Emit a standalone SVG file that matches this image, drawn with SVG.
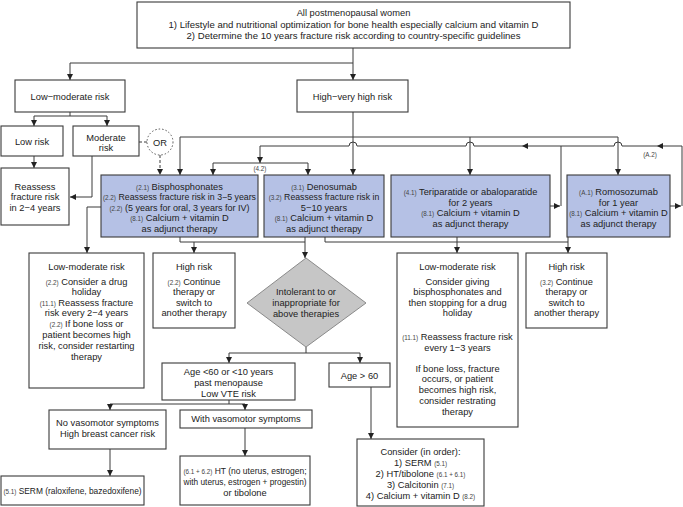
<svg xmlns="http://www.w3.org/2000/svg" width="683" height="507" viewBox="0 0 683 507">
<style>
.bx{fill:#fff;stroke:#3a3a3a;stroke-width:1.1}
.bl{fill:#b5c1e5;stroke:#3a3a3a;stroke-width:1.1}
.dm{fill:#c6c6c6;stroke:#8a8a8a;stroke-width:1}
.t{font-family:"Liberation Sans",Arial,sans-serif;font-size:9.3px;fill:#222;text-anchor:middle}
.s{font-size:6.3px;fill:#444}
.c{fill:none;stroke:#3a3a3a;stroke-width:1}
.a{marker-end:url(#ah)}
.ah{fill:#222}
</style>
<defs>
<marker id="ah" markerWidth="7" markerHeight="7" refX="6" refY="3" orient="auto" markerUnits="userSpaceOnUse"><path d="M0,0 L6,3 L0,6 z" fill="#222"/></marker>
</defs>
<rect width="683" height="507" fill="#fff"/>

<g id="connectors">
<path class="c" d="M353,48 V63 M70,63 H353"/>
<path class="c a" d="M70,63 V80"/>
<path class="c a" d="M353,63 V80"/>
<path class="c" d="M70,112 V116 M34,116 H107"/>
<path class="c a" d="M34,116 V126"/>
<path class="c a" d="M107,116 V126"/>
<path class="c a" d="M34,156 V168"/>
<path class="c a" d="M92,156 V197 H70"/>
<path class="c" d="M139,142 H147" stroke-dasharray="3,2"/>
<path class="c a" d="M160,155 V175" stroke-dasharray="3,2"/>
<path class="c a" d="M353,112 V175"/>
<path class="c" d="M180,137 H618"/>
<path class="c a" d="M180,137 V175"/>
<path class="c a" d="M470,137 V175"/>
<path class="c a" d="M618,137 V175"/>
<path class="c" d="M213,163 H308"/>
<path class="c a" d="M213,163 V175"/>
<path class="c a" d="M308,163 V175"/>
<path class="c a" d="M682,206 V146 H622 a4,4 0 0 0 -8,0 H474 a4,4 0 0 0 -8,0 H357 a4,4 0 0 0 -8,0 H260 V163"/>
<path class="ah" d="M522,146 l6,-3 v6 z"/>
<path class="ah" d="M657,146 l6,-3 v6 z"/>
<path class="c a" d="M550,206 H560"/>
<path class="c" d="M561,206 V146"/>
<path class="c a" d="M670,206 H681"/>
<path class="c a" d="M101,207 H87 V253"/>
<path class="c" d="M180,237 V242 H305"/>
<path class="c a" d="M305,237 V258"/>
<path class="c a" d="M194,242 V253"/>
<path class="c" d="M325,237 V242 H568"/>
<path class="c a" d="M457,237 V253"/>
<path class="c a" d="M568,237 V253"/>
<path class="c" d="M306,347 V353 M229,353 H360"/>
<path class="c a" d="M229,353 V363"/>
<path class="c a" d="M360,353 V363"/>
<path class="c a" d="M371,387 V439"/>
<path class="c" d="M229,400 V404 M110,404 H245"/>
<path class="c a" d="M110,404 V410"/>
<path class="c a" d="M245,404 V410"/>
<path class="c a" d="M110,449 V476"/>
<path class="c a" d="M245,428 V456"/>
</g>

<g id="top">
<rect class="bx" x="137" y="2" width="433" height="46"/>
<text class="t" x="353.5" y="15.5">All postmenopausal women</text>
<text class="t" x="353.5" y="27.5" textLength="370" lengthAdjust="spacingAndGlyphs">1) Lifestyle and nutritional optimization for bone health especially calcium and vitamin D</text>
<text class="t" x="353.5" y="39" textLength="334" lengthAdjust="spacingAndGlyphs">2) Determine the 10 years fracture risk according to country-specific guidelines</text>
</g>

<g id="lowmod">
<rect class="bx" x="15" y="80" width="110" height="32"/>
<text class="t" x="70" y="99.5">Low−moderate risk</text>
</g>
<g id="highvh">
<rect class="bx" x="297" y="80" width="111" height="32"/>
<text class="t" x="352.5" y="99.5">High−very high risk</text>
</g>
<g id="lowrisk">
<rect class="bx" x="1" y="126" width="62" height="30"/>
<text class="t" x="32" y="144.5">Low risk</text>
</g>
<g id="modrisk">
<rect class="bx" x="73" y="126" width="66" height="30"/>
<text class="t" x="106" y="140.5">Moderate</text>
<text class="t" x="106" y="150.5">risk</text>
</g>
<g id="or">
<circle cx="160" cy="142" r="13" fill="#fff" stroke="#555" stroke-width="1" stroke-dasharray="1.5,2"/>
<text class="t" x="160" y="145.5">OR</text>
</g>
<g id="reassess">
<rect class="bx" x="1" y="168" width="68" height="57"/>
<text class="t" x="35" y="189.5">Reassess</text>
<text class="t" x="35" y="200">fracture risk</text>
<text class="t" x="35" y="210.5">in 2−4 years</text>
</g>

<g id="bisph">
<rect class="bl" x="101" y="175" width="157" height="62"/>
<text class="t" x="179.5" y="189.5"><tspan class="s">(2.1)</tspan> Bisphosphonates</text>
<text class="t" x="179.5" y="200" style="font-size:8.8px"><tspan class="s">(2.2)</tspan> Reassess fracture risk in 3−5 years</text>
<text class="t" x="179.5" y="210.5" style="font-size:9px"><tspan class="s">(2.2)</tspan> (5 years for oral, 3 years for IV)</text>
<text class="t" x="179.5" y="221"><tspan class="s">(8.1)</tspan> Calcium + vitamin D</text>
<text class="t" x="179.5" y="231.5">as adjunct therapy</text>
</g>
<g id="denos">
<rect class="bl" x="264" y="175" width="120" height="62"/>
<text class="t" x="324" y="189.5"><tspan class="s">(3.1)</tspan> Denosumab</text>
<text class="t" x="324" y="200" style="font-size:8.7px"><tspan class="s">(3.2)</tspan> Reassess fracture risk in</text>
<text class="t" x="324" y="210.5">5−10 years</text>
<text class="t" x="324" y="221"><tspan class="s">(8.1)</tspan> Calcium + vitamin D</text>
<text class="t" x="324" y="231.5">as adjunct therapy</text>
</g>
<g id="teri">
<rect class="bl" x="391" y="175" width="159" height="62"/>
<text class="t" x="470.5" y="195"><tspan class="s">(4.1)</tspan> Teriparatide or abaloparatide</text>
<text class="t" x="470.5" y="205.5">for 2 years</text>
<text class="t" x="470.5" y="216"><tspan class="s">(8.1)</tspan> Calcium + vitamin D</text>
<text class="t" x="470.5" y="226.5">as adjunct therapy</text>
</g>
<g id="romo">
<rect class="bl" x="567" y="175" width="103" height="62"/>
<text class="t" x="618.5" y="195"><tspan class="s">(A.1)</tspan> Romosozumab</text>
<text class="t" x="618.5" y="205.5">for 1 year</text>
<text class="t" x="618.5" y="216"><tspan class="s">(8.1)</tspan> Calcium + vitamin D</text>
<text class="t" x="618.5" y="226.5">as adjunct therapy</text>
</g>
<g id="labels">
<text class="t s" x="260" y="171">(4.2)</text>
<text class="t s" x="650" y="157">(A.2)</text>
</g>

<g id="lowmod2">
<rect class="bx" x="29" y="253" width="115" height="135"/>
<text class="t" x="86.5" y="269.5">Low-moderate risk</text>
<text class="t" x="86.5" y="284.5"><tspan class="s">(2.2)</tspan> Consider a drug</text>
<text class="t" x="86.5" y="295">holiday</text>
<text class="t" x="86.5" y="305.5"><tspan class="s">(11.1)</tspan> Reassess fracture</text>
<text class="t" x="86.5" y="316">risk every 2−4 years</text>
<text class="t" x="86.5" y="327"><tspan class="s">(2.2)</tspan> If bone loss or</text>
<text class="t" x="86.5" y="338">patient becomes high</text>
<text class="t" x="86.5" y="349">risk, consider restarting</text>
<text class="t" x="86.5" y="360">therapy</text>
</g>
<g id="high2">
<rect class="bx" x="153" y="253" width="82" height="75"/>
<text class="t" x="194" y="269.5">High risk</text>
<text class="t" x="194" y="284.5"><tspan class="s">(2.2)</tspan> Continue</text>
<text class="t" x="194" y="295">therapy or</text>
<text class="t" x="194" y="305.5">switch to</text>
<text class="t" x="194" y="316">another therapy</text>
</g>
<g id="intolerant">
<polygon class="dm" points="306,258 366,303 306,347 247,303"/>
<text class="t" x="306" y="295">Intolerant to or</text>
<text class="t" x="306" y="306">inappropriate for</text>
<text class="t" x="306" y="317">above therapies</text>
</g>
<g id="lowmod3">
<rect class="bx" x="397" y="253" width="121" height="174"/>
<text class="t" x="457.5" y="269.5">Low-moderate risk</text>
<text class="t" x="457.5" y="284.5">Consider giving</text>
<text class="t" x="457.5" y="295">bisphosphonates and</text>
<text class="t" x="457.5" y="305.5">then stopping for a drug</text>
<text class="t" x="457.5" y="316">holiday</text>
<text class="t" x="457.5" y="340"><tspan class="s">(11.1)</tspan> Reassess fracture risk</text>
<text class="t" x="457.5" y="350.5">every 1−3 years</text>
<text class="t" x="457.5" y="371.5">If bone loss, fracture</text>
<text class="t" x="457.5" y="382">occurs, or patient</text>
<text class="t" x="457.5" y="393">becomes high risk,</text>
<text class="t" x="457.5" y="404">consider restrating</text>
<text class="t" x="457.5" y="415">therapy</text>
</g>
<g id="high3">
<rect class="bx" x="526" y="253" width="81" height="75"/>
<text class="t" x="566.5" y="269.5">High risk</text>
<text class="t" x="566.5" y="284.5"><tspan class="s">(3.2)</tspan> Continue</text>
<text class="t" x="566.5" y="295">therapy or</text>
<text class="t" x="566.5" y="305.5">switch to</text>
<text class="t" x="566.5" y="316">another therapy</text>
</g>
<g id="age60">
<rect class="bx" x="162" y="363" width="133" height="37"/>
<text class="t" x="228.5" y="374.5">Age &lt;60 or &lt;10 years</text>
<text class="t" x="228.5" y="385.5">past menopause</text>
<text class="t" x="228.5" y="396.5">Low VTE risk</text>
</g>
<g id="ageover60">
<rect class="bx" x="329" y="363" width="61" height="24"/>
<text class="t" x="359.5" y="378.5">Age &gt; 60</text>
</g>
<g id="novaso">
<rect class="bx" x="49" y="410" width="117" height="39"/>
<text class="t" x="107.5" y="426">No vasomotor symptoms</text>
<text class="t" x="107.5" y="437">High breast cancer risk</text>
</g>
<g id="withvaso">
<rect class="bx" x="180" y="410" width="132" height="18"/>
<text class="t" x="246" y="422">With vasomotor symptoms</text>
</g>
<g id="serm">
<rect class="bx" x="1" y="476" width="143" height="29"/>
<text class="t" x="72.5" y="493.5" style="font-size:8.4px"><tspan class="s">(5.1)</tspan> SERM (raloxifene, bazedoxifene)</text>
</g>
<g id="ht">
<rect class="bx" x="180" y="456" width="130" height="49"/>
<text class="t" x="245" y="473.5" style="font-size:8.5px"><tspan class="s">(6.1 + 6.2)</tspan> HT (no uterus, estrogen;</text>
<text class="t" x="245" y="484.5" textLength="123" lengthAdjust="spacingAndGlyphs">with uterus, estrogen + progestin)</text>
<text class="t" x="245" y="495.5">or tibolone</text>
</g>
<g id="consider">
<rect class="bx" x="357" y="439" width="127" height="67"/>
<text class="t" x="420.5" y="454.5">Consider (in order):</text>
<text class="t" x="420.5" y="465.5">1) SERM <tspan class="s">(5.1)</tspan></text>
<text class="t" x="420.5" y="476.5">2) HT/tibolone <tspan class="s">(6.1 + 6.1)</tspan></text>
<text class="t" x="420.5" y="487.5">3) Calcitonin <tspan class="s">(7.1)</tspan></text>
<text class="t" x="420.5" y="498.5">4) Calcium + vitamin D <tspan class="s">(8.2)</tspan></text>
</g>
</svg>
